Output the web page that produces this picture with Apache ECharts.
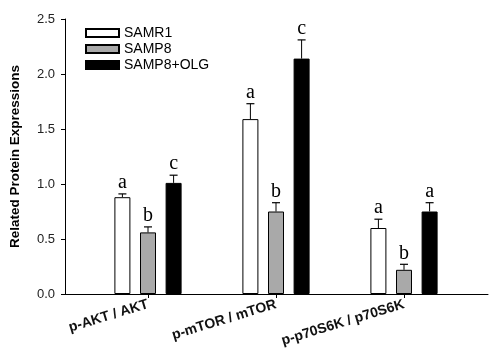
<!DOCTYPE html>
<html>
<head>
<meta charset="utf-8">
<script src="https://cdn.jsdelivr.net/npm/echarts@6/dist/echarts.min.js"></script>
<style>html,body{margin:0;padding:0;background:#fff;}#c{width:490px;height:352px;}</style>
</head>
<body>
<div id="c"></div>
<script>
const categories = ['p-AKT / AKT', 'p-mTOR / mTOR', 'p-p70S6K / p70S6K'];
const seriesNames = ['SAMR1', 'SAMP8', 'SAMP8+OLG'];
const samr1 = [0.88, 1.59, 0.60];
const samr1Err = [0.03, 0.14, 0.08];
const samr1Letters = ['a', 'a', 'a'];
const samp8 = [0.56, 0.75, 0.22];
const samp8Err = [0.05, 0.08, 0.05];
const samp8Letters = ['b', 'b', 'b'];
const olg = [1.01, 2.14, 0.75];
const olgErr = [0.07, 0.17, 0.08];
const olgLetters = ['c', 'c', 'a'];
const yTicks = [0, 0.5, 1.0, 1.5, 2.0, 2.5];

const values = [samr1, samp8, olg];
const errs = [samr1Err, samp8Err, olgErr];
const letters = [samr1Letters, samp8Letters, olgLetters];
const colors = ['#ffffff', '#a9a9a9', '#000000'];
const BAR_W = 16, GAP = 9.6;

const chart = echarts.init(document.getElementById('c'), null, {renderer: 'canvas'});

const barSeries = values.map((vals, i) => ({
  type: 'bar', name: seriesNames[i], xAxisIndex: 1, yAxisIndex: 1,
  data: vals, barWidth: BAR_W, barGap: (GAP / BAR_W * 100) + '%',
  itemStyle: {color: colors[i], borderColor: '#000', borderWidth: 1},
  emphasis: {disabled: true}, silent: true, z: 2
}));

const errSeries = values.map((vals, i) => ({
  type: 'custom', name: 'err' + i, xAxisIndex: 1, yAxisIndex: 1, z: 3, silent: true,
  data: vals.map((v, k) => [k, v, errs[i][k]]),
  encode: {x: 0, y: 1},
  renderItem: function (params, api) {
    const k = api.value(0), v = api.value(1), e = api.value(2);
    const off = (i - 1) * (BAR_W + GAP);
    const p0 = api.coord([k, v]);
    const p1 = api.coord([k, v + e]);
    const x = p0[0] + off;
    return {
      type: 'group',
      children: [
        {type: 'line', shape: {x1: x, y1: p0[1], x2: x, y2: p1[1]}, style: {stroke: '#000', lineWidth: 1}},
        {type: 'line', shape: {x1: x - 4, y1: p1[1], x2: x + 4, y2: p1[1]}, style: {stroke: '#000', lineWidth: 1.2}},
        {type: 'text', x: x, y: p1[1] - 1, style: {text: letters[i][params.dataIndex], textAlign: 'center', textVerticalAlign: 'bottom', verticalAlign: 'bottom', align: 'center', font: '20px "Liberation Serif", "DejaVu Serif", serif', fill: '#000'}}
      ]
    };
  }
}));

chart.setOption({
  backgroundColor: '#fff',
  animation: false,
  grid: [
    {left: 63, right: 2, top: 19, bottom: 58},
    {left: 84, right: 22, top: 19, bottom: 58}
  ],
  legend: {
    data: seriesNames, orient: 'vertical', left: 85, top: 26, padding: 0,
    itemWidth: 33, itemHeight: 8, itemGap: 2, icon: 'rect',
    textStyle: {fontSize: 14, color: '#000', fontFamily: 'Liberation Sans, Arial, sans-serif'},
    selectedMode: false
  },
  xAxis: [
    {type: 'value', gridIndex: 0, min: 0, max: 1, axisLine: {show: true, onZero: false, lineStyle: {color: '#000', width: 1}},
      axisTick: {show: false}, axisLabel: {show: false}, splitLine: {show: false}},
    {type: 'category', gridIndex: 1, data: categories, boundaryGap: true,
      axisLine: {show: false}, axisTick: {show: true, alignWithLabel: true, length: 4, lineStyle: {color: '#000'}},
      axisLabel: {rotate: 17, margin: 10, fontSize: 14, fontWeight: 'bold', color: '#111', fontFamily: 'Liberation Sans, Arial, sans-serif'},
      splitLine: {show: false}}
  ],
  yAxis: [
    {type: 'value', gridIndex: 0, min: yTicks[0], max: yTicks[yTicks.length - 1], interval: yTicks[1] - yTicks[0],
      name: 'Related Protein Expressions', nameLocation: 'middle', nameGap: 43,
      nameTextStyle: {fontSize: 13.5, fontWeight: 'bold', color: '#000', fontFamily: 'Liberation Sans, Arial, sans-serif'},
      axisLine: {show: true, lineStyle: {color: '#000', width: 1}},
      axisTick: {show: true, length: 4, lineStyle: {color: '#000'}},
      axisLabel: {formatter: v => v.toFixed(1), fontSize: 13, color: '#222', margin: 10, fontFamily: 'Liberation Sans, Arial, sans-serif'},
      splitLine: {show: false}},
    {type: 'value', gridIndex: 1, min: yTicks[0], max: yTicks[yTicks.length - 1], interval: yTicks[1] - yTicks[0], show: false}
  ],
  series: barSeries.concat(errSeries)
});
</script>
</body>
</html>
